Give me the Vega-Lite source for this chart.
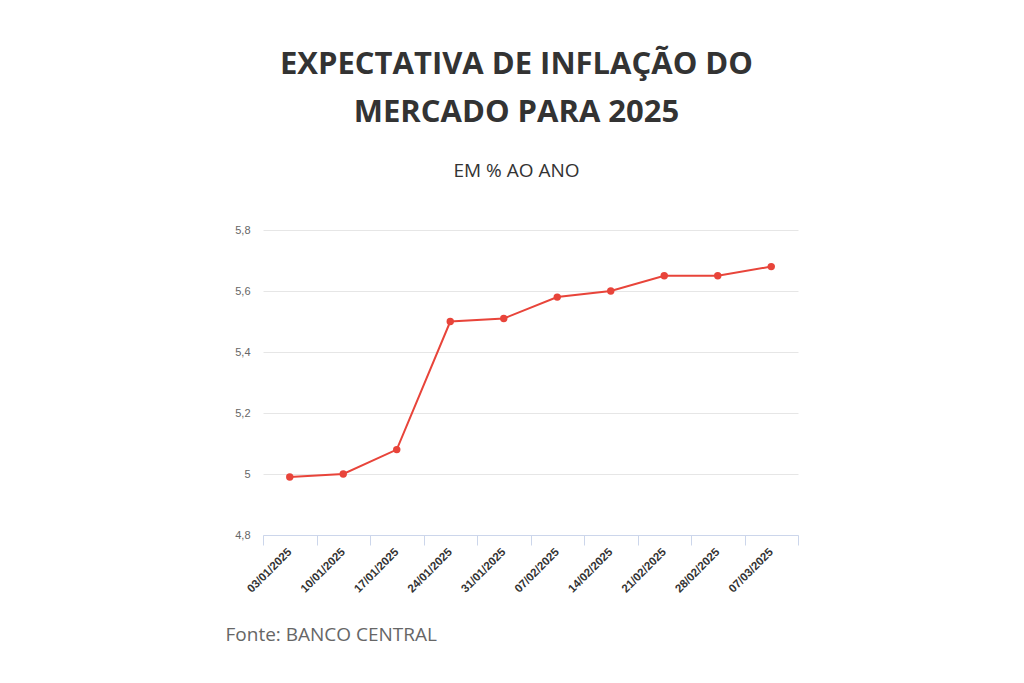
{
  "$schema": "https://vega.github.io/schema/vega-lite/v6.json",
  "autosize": {"type": "none"},
  "width": 535,
  "height": 305,
  "padding": {"left": 263, "top": 230, "right": 226, "bottom": 148},
  "background": "#ffffff",
  "title": {
    "text": ["EXPECTATIVA DE INFLAÇÃO DO", "MERCADO PARA 2025"],
    "subtitle": "EM % AO ANO",
    "anchor": "middle",
    "dx": -14,
    "offset": 42,
    "font": "Open Sans",
    "fontSize": 31,
    "fontWeight": "bold",
    "color": "#333333",
    "lineHeight": 48,
    "subtitleFont": "Open Sans",
    "subtitleFontSize": 19,
    "subtitleColor": "#333333",
    "subtitlePadding": 33
  },
  "data": {
    "values": [
      {"data": "03/01/2025", "valor": 4.99},
      {"data": "10/01/2025", "valor": 5.00},
      {"data": "17/01/2025", "valor": 5.08},
      {"data": "24/01/2025", "valor": 5.50},
      {"data": "31/01/2025", "valor": 5.51},
      {"data": "07/02/2025", "valor": 5.58},
      {"data": "14/02/2025", "valor": 5.60},
      {"data": "21/02/2025", "valor": 5.65},
      {"data": "28/02/2025", "valor": 5.65},
      {"data": "07/03/2025", "valor": 5.68}
    ]
  },
  "encoding": {
    "x": {
      "field": "data",
      "type": "nominal",
      "sort": null,
      "bandPosition": 0.5,
      "scale": {"type": "band", "paddingInner": 0, "paddingOuter": 0},
      "axis": {
        "title": "Fonte: BANCO CENTRAL",
        "titleFont": "Open Sans",
        "titleFontSize": 19,
        "titleFontWeight": "normal",
        "titleColor": "#666666",
        "titleAlign": "left",
        "titleBaseline": "alphabetic",
        "titleX": -38,
        "titleY": 105,
        "labelAngle": -45,
        "labelAlign": "right",
        "labelBaseline": "middle",
        "labelFont": "Liberation Sans",
        "labelFontSize": 11.5,
        "labelFontWeight": "bold",
        "labelColor": "#333333",
        "labelPadding": 5,
        "domainColor": "#ccd6eb",
        "tickColor": "#ccd6eb",
        "tickSize": 10,
        "tickBand": "extent",
        "grid": false
      }
    },
    "y": {
      "field": "valor",
      "type": "quantitative",
      "scale": {"domain": [4.8, 5.8], "zero": false, "nice": false},
      "axis": {
        "title": null,
        "values": [4.8, 5, 5.2, 5.4, 5.6, 5.8],
        "labelExpr": "replace(format(datum.value, '~g'), '.', ',')",
        "labelFont": "Liberation Sans",
        "labelFontSize": 11,
        "labelColor": "#666666",
        "labelPadding": 13,
        "domain": false,
        "ticks": false,
        "gridColor": "#e6e6e6",
        "gridWidth": 1
      }
    }
  },
  "layer": [
    {"mark": {"type": "line", "color": "#e8443a", "strokeWidth": 2}},
    {"mark": {"type": "point", "filled": true, "color": "#e8443a", "opacity": 1, "size": 55}}
  ],
  "config": {"view": {"stroke": null}}
}
